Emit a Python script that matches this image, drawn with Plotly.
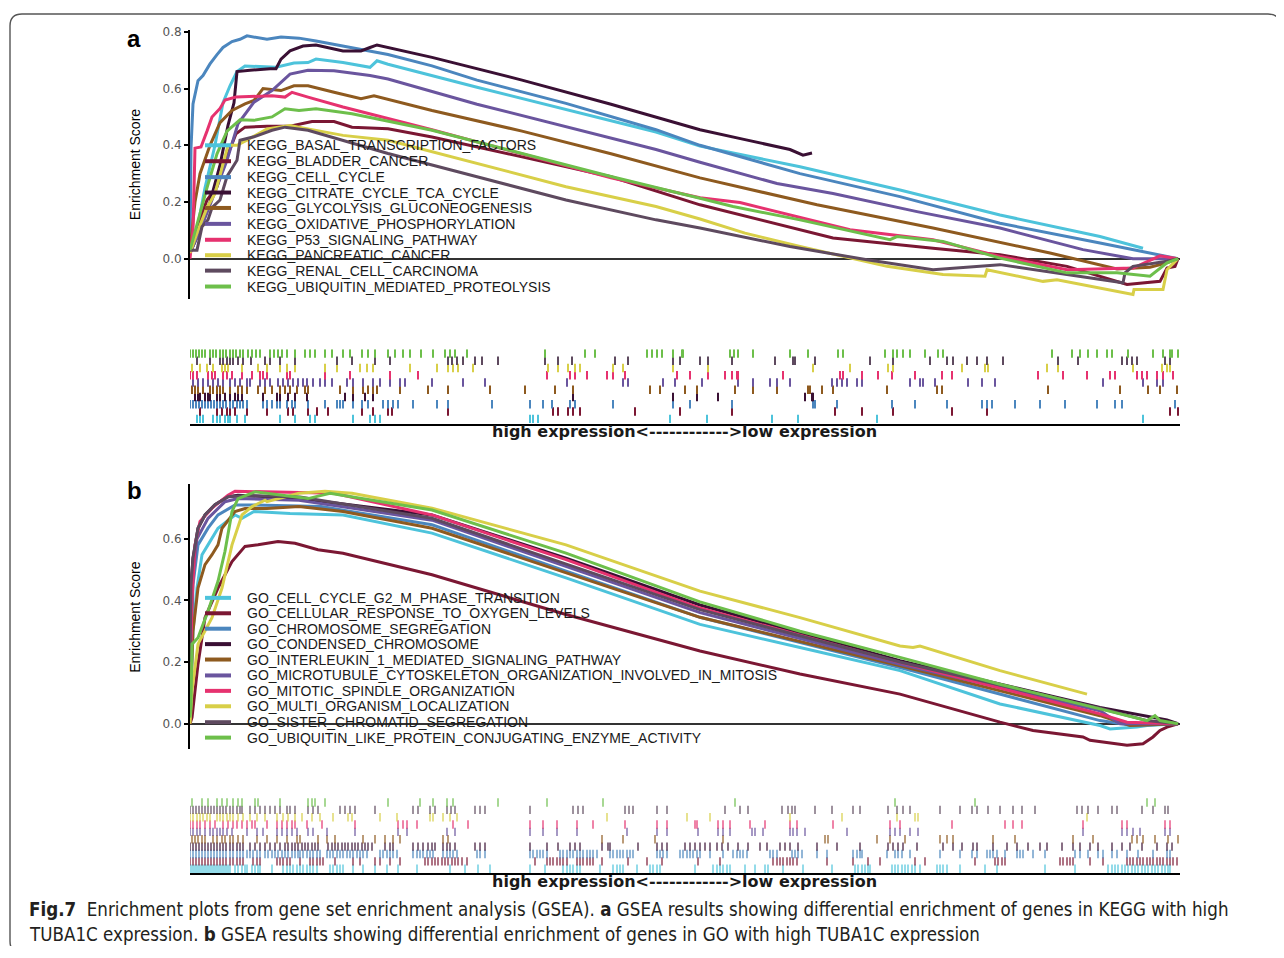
import plotly.graph_objects as go

# ---------------- DATA ----------------
KEGG_NAMES = ["KEGG_BASAL_TRANSCRIPTION_FACTORS", "KEGG_BLADDER_CANCER", "KEGG_CELL_CYCLE",
              "KEGG_CITRATE_CYCLE_TCA_CYCLE", "KEGG_GLYCOLYSIS_GLUCONEOGENESIS",
              "KEGG_OXIDATIVE_PHOSPHORYLATION", "KEGG_P53_SIGNALING_PATHWAY",
              "KEGG_PANCREATIC_CANCER", "KEGG_RENAL_CELL_CARCINOMA",
              "KEGG_UBIQUITIN_MEDIATED_PROTEOLYSIS"]
GO_NAMES = ["GO_CELL_CYCLE_G2_M_PHASE_TRANSITION", "GO_CELLULAR_RESPONSE_TO_OXYGEN_LEVELS",
            "GO_CHROMOSOME_SEGREGATION", "GO_CONDENSED_CHROMOSOME",
            "GO_INTERLEUKIN_1_MEDIATED_SIGNALING_PATHWAY",
            "GO_MICROTUBULE_CYTOSKELETON_ORGANIZATION_INVOLVED_IN_MITOSIS",
            "GO_MITOTIC_SPINDLE_ORGANIZATION", "GO_MULTI_ORGANISM_LOCALIZATION",
            "GO_SISTER_CHROMATID_SEGREGATION",
            "GO_UBIQUITIN_LIKE_PROTEIN_CONJUGATING_ENZYME_ACTIVITY"]
COLORS = ["#4DC3DB", "#7B1733", "#4B86BE", "#3A1034", "#8E5A1F",
          "#6A559E", "#E6326F", "#D8CF48", "#5E4A5F", "#6DBF4B"]

# running enrichment score curves (x = gene rank position, y = ES)
KEGG_X = [
    [0, 8, 15, 25, 33, 40, 47, 55, 86, 104, 118, 126, 153, 180, 187, 198, 287, 376, 466, 510, 610, 710, 810, 910, 953],
    [0, 8, 17, 27, 33, 46, 55, 77, 100, 122, 144, 162, 198, 242, 332, 421, 510, 643, 743, 810, 877, 927, 937, 970, 977, 985, 988],
    [0, 1, 3, 8, 13, 20, 27, 33, 42, 50, 57, 77, 91, 109, 126, 162, 198, 242, 287, 376, 466, 510, 610, 710, 810, 910, 960, 983, 988],
    [0, 10, 20, 30, 38, 44, 47, 60, 80, 86, 91, 100, 113, 126, 153, 171, 180, 187, 242, 332, 421, 510, 555, 600, 613, 622],
    [0, 5, 10, 20, 30, 42, 55, 64, 73, 91, 104, 118, 144, 171, 184, 242, 332, 421, 510, 627, 743, 860, 927, 960, 977, 988],
    [0, 10, 19, 28, 37, 48, 64, 82, 100, 118, 144, 180, 198, 287, 376, 466, 510, 587, 643, 727, 810, 893, 943, 977, 988],
    [0, 3, 5, 11, 17, 22, 30, 35, 46, 64, 82, 95, 102, 118, 153, 242, 332, 421, 510, 550, 660, 743, 810, 877, 943, 970, 988],
    [0, 8, 17, 25, 32, 38, 47, 57, 77, 100, 118, 153, 198, 287, 376, 466, 510, 555, 610, 697, 753, 795, 797, 853, 867, 943, 944, 973, 977, 988],
    [0, 7, 12, 18, 22, 30, 37, 47, 50, 64, 82, 95, 118, 198, 287, 376, 466, 510, 600, 677, 743, 810, 877, 933, 935, 943, 977, 988],
    [0, 8, 17, 27, 37, 50, 64, 82, 95, 109, 126, 162, 242, 332, 421, 510, 543, 610, 700, 707, 753, 810, 877, 927, 960, 977, 988],
]
KEGG_ES = [
    [0.02, 0.12, 0.25, 0.40, 0.55, 0.61, 0.66, 0.68, 0.675, 0.69, 0.692, 0.704, 0.692, 0.675, 0.698, 0.686, 0.605, 0.527, 0.447, 0.397, 0.324, 0.242, 0.154, 0.078, 0.037],
    [0.02, 0.12, 0.207, 0.254, 0.324, 0.441, 0.464, 0.467, 0.467, 0.484, 0.484, 0.464, 0.458, 0.429, 0.359, 0.289, 0.19, 0.073, 0.037, 0.014, -0.027, -0.08, -0.091, -0.08, -0.033, -0.027, 0.0],
    [0.02, 0.39, 0.546, 0.628, 0.646, 0.687, 0.72, 0.745, 0.766, 0.774, 0.786, 0.774, 0.782, 0.778, 0.768, 0.745, 0.72, 0.68, 0.63, 0.548, 0.455, 0.40, 0.30, 0.219, 0.125, 0.055, 0.02, 0.006, 0.0],
    [0.02, 0.1, 0.2, 0.33, 0.47, 0.55, 0.66, 0.665, 0.67, 0.67, 0.704, 0.733, 0.75, 0.754, 0.733, 0.733, 0.745, 0.754, 0.71, 0.63, 0.545, 0.455, 0.42, 0.385, 0.365, 0.373],
    [0.03, 0.2, 0.3, 0.4, 0.48, 0.523, 0.546, 0.558, 0.6, 0.593, 0.61, 0.61, 0.587, 0.564, 0.575, 0.523, 0.45, 0.37, 0.285, 0.19, 0.108, 0.02, -0.036, -0.03, -0.015, 0.0],
    [0.02, 0.1, 0.18, 0.26, 0.347, 0.476, 0.552, 0.593, 0.651, 0.665, 0.663, 0.646, 0.634, 0.545, 0.465, 0.385, 0.34, 0.265, 0.23, 0.166, 0.108, 0.032, 0.0, 0.002, 0.0],
    [0.0, 0.1, 0.39, 0.394, 0.45, 0.5, 0.53, 0.56, 0.57, 0.572, 0.575, 0.57, 0.587, 0.57, 0.535, 0.455, 0.37, 0.285, 0.215, 0.198, 0.102, 0.067, 0.008, -0.039, -0.033, 0.01, 0.0],
    [0.02, 0.1, 0.18, 0.23, 0.32, 0.4, 0.4, 0.418, 0.458, 0.47, 0.458, 0.435, 0.418, 0.336, 0.254, 0.184, 0.14, 0.09, 0.043, -0.027, -0.056, -0.062, -0.039, -0.08, -0.074, -0.126, -0.109, -0.109, -0.039, 0.0],
    [0.03, 0.03, 0.113, 0.137, 0.18, 0.207, 0.29, 0.347, 0.418, 0.43, 0.453, 0.464, 0.453, 0.371, 0.289, 0.207, 0.137, 0.108, 0.043, -0.004, -0.039, -0.021, -0.056, -0.085, -0.05, -0.027, -0.009, 0.0],
    [0.03, 0.137, 0.25, 0.37, 0.45, 0.49, 0.488, 0.5, 0.529, 0.523, 0.529, 0.511, 0.453, 0.371, 0.29, 0.213, 0.184, 0.137, 0.067, 0.078, 0.061, 0.002, -0.05, -0.05, -0.062, -0.015, 0.0],
]
GO_X = [
    [0, 3, 7, 12, 18, 28, 45, 52, 64, 100, 153, 242, 376, 510, 610, 710, 810, 910, 920, 947, 957, 983, 988],
    [0, 2, 8, 15, 28, 42, 55, 68, 88, 105, 128, 153, 242, 376, 510, 610, 710, 810, 843, 893, 900, 937, 953, 963, 970, 977, 988],
    [0, 3, 8, 18, 28, 45, 64, 131, 242, 510, 710, 910, 943, 988],
    [0, 1, 3, 8, 15, 25, 38, 48, 109, 242, 376, 510, 710, 910, 977, 988],
    [0, 3, 8, 15, 22, 28, 32, 45, 55, 77, 109, 153, 242, 510, 710, 910, 940, 988],
    [0, 2, 7, 18, 35, 48, 109, 242, 510, 710, 910, 930, 988],
    [0, 2, 5, 10, 22, 38, 45, 77, 144, 242, 376, 510, 710, 910, 937, 988],
    [0, 2, 8, 22, 32, 42, 52, 62, 75, 77, 109, 135, 162, 242, 376, 510, 610, 710, 723, 730, 810, 897],
    [0, 1, 3, 8, 15, 25, 38, 60, 110, 242, 510, 710, 910, 957, 988],
    [0, 1, 2, 8, 18, 28, 35, 42, 48, 65, 118, 140, 242, 376, 510, 610, 710, 810, 910, 957, 965, 970, 988],
]
GO_ES = [
    [0.05, 0.3, 0.44, 0.548, 0.58, 0.634, 0.677, 0.666, 0.688, 0.682, 0.677, 0.618, 0.473, 0.322, 0.247, 0.172, 0.064, -0.006, -0.017, -0.011, -0.006, 0.0, 0.0],
    [0.0, 0.02, 0.193, 0.344, 0.44, 0.526, 0.575, 0.58, 0.591, 0.585, 0.564, 0.553, 0.483, 0.354, 0.236, 0.161, 0.096, 0.005, -0.022, -0.043, -0.054, -0.07, -0.065, -0.043, -0.022, -0.011, 0.0],
    [0.1, 0.45, 0.58, 0.634, 0.677, 0.709, 0.709, 0.704, 0.645, 0.345, 0.182, 0.01, -0.006, 0.0],
    [0.15, 0.45, 0.537, 0.634, 0.677, 0.71, 0.736, 0.741, 0.73, 0.677, 0.537, 0.385, 0.204, 0.053, 0.012, 0.0],
    [0.02, 0.3, 0.44, 0.516, 0.548, 0.58, 0.634, 0.688, 0.698, 0.698, 0.704, 0.688, 0.634, 0.345, 0.188, 0.026, -0.006, 0.0],
    [0.1, 0.45, 0.6, 0.666, 0.72, 0.73, 0.725, 0.66, 0.36, 0.193, 0.042, 0.0, 0.0],
    [0.1, 0.4, 0.58, 0.656, 0.699, 0.741, 0.754, 0.752, 0.747, 0.677, 0.532, 0.375, 0.199, 0.032, 0.005, 0.0],
    [0.0, 0.107, 0.258, 0.344, 0.44, 0.58, 0.677, 0.704, 0.725, 0.72, 0.747, 0.754, 0.747, 0.699, 0.58, 0.43, 0.344, 0.252, 0.247, 0.252, 0.172, 0.096],
    [0.2, 0.45, 0.537, 0.634, 0.677, 0.71, 0.736, 0.74, 0.735, 0.666, 0.37, 0.2, 0.05, 0.01, 0.0],
    [0.02, 0.064, 0.258, 0.279, 0.365, 0.462, 0.559, 0.688, 0.73, 0.752, 0.73, 0.747, 0.693, 0.553, 0.395, 0.30, 0.215, 0.128, 0.048, 0.01, 0.026, 0.01, 0.0],
]

# gene-set member positions (rug "hits")
KEGG_HITS = [
    [7, 10, 13, 23, 27, 30, 35, 38, 40, 47, 55, 90, 105, 120, 125, 163, 180, 185, 190, 340, 343, 348, 480, 517, 582, 608, 687, 953],
    [10, 27, 32, 37, 40, 45, 57, 77, 98, 103, 118, 127, 138, 172, 183, 198, 202, 258, 363, 368, 378, 383, 390, 445, 490, 542, 645, 672, 703, 762, 797, 980, 988],
    [0, 3, 6, 9, 12, 15, 18, 21, 24, 27, 30, 33, 36, 40, 43, 47, 50, 53, 57, 73, 77, 82, 87, 90, 97, 102, 105, 118, 135, 147, 150, 153, 163, 172, 178, 193, 198, 203, 208, 223, 247, 258, 302, 340, 353, 362, 380, 385, 423, 483, 500, 542, 623, 625, 647, 702, 725, 757, 792, 797, 802, 825, 850, 875, 907, 925, 932, 985],
    [5, 8, 10, 15, 18, 20, 27, 30, 35, 40, 45, 48, 52, 73, 87, 90, 98, 105, 117, 155, 163, 175, 183, 383, 483, 507, 528, 615, 622, 623],
    [2, 5, 8, 13, 20, 23, 27, 30, 33, 40, 48, 52, 57, 68, 75, 82, 90, 95, 100, 107, 115, 118, 150, 163, 173, 178, 183, 187, 210, 238, 258, 300, 335, 365, 383, 460, 470, 495, 507, 545, 563, 587, 618, 620, 632, 643, 697, 747, 752, 858, 930, 958, 970, 987],
    [3, 8, 13, 18, 23, 28, 33, 40, 45, 50, 57, 60, 70, 75, 80, 88, 93, 98, 103, 108, 113, 117, 123, 130, 135, 142, 157, 163, 173, 183, 190, 200, 210, 215, 242, 273, 295, 377, 433, 438, 473, 485, 512, 548, 563, 580, 587, 600, 642, 647, 652, 657, 667, 672, 720, 730, 733, 745, 778, 792, 805, 913, 953, 967, 973],
    [0, 3, 7, 18, 22, 25, 33, 37, 42, 52, 62, 70, 73, 77, 97, 100, 135, 160, 200, 228, 357, 380, 385, 397, 417, 423, 435, 487, 500, 518, 535, 542, 547, 548, 593, 650, 653, 672, 688, 702, 725, 752, 762, 848, 873, 897, 920, 925, 947, 952, 957, 967, 973, 983],
    [2, 10, 17, 23, 32, 35, 38, 52, 68, 77, 90, 97, 105, 135, 147, 170, 177, 183, 220, 247, 258, 263, 268, 283, 358, 368, 378, 385, 390, 423, 433, 483, 518, 623, 660, 698, 703, 772, 795, 798, 857, 868, 943, 972, 977, 980],
    [7, 20, 30, 33, 37, 40, 43, 48, 53, 61, 75, 80, 90, 105, 147, 162, 185, 200, 258, 262, 267, 273, 285, 292, 308, 355, 368, 382, 425, 438, 483, 490, 510, 518, 542, 585, 603, 605, 625, 680, 703, 740, 757, 763, 777, 787, 797, 813, 868, 888, 932, 937, 942, 947, 975, 980],
    [0, 3, 6, 9, 12, 15, 20, 23, 26, 30, 33, 36, 40, 43, 46, 50, 53, 58, 62, 66, 70, 80, 84, 88, 92, 97, 105, 115, 120, 125, 135, 142, 153, 160, 172, 178, 185, 198, 205, 213, 220, 231, 243, 255, 260, 265, 277, 355, 395, 405, 457, 462, 467, 472, 483, 492, 493, 540, 544, 548, 563, 600, 618, 648, 653, 695, 703, 707, 713, 720, 735, 748, 753, 862, 882, 890, 898, 907, 917, 922, 938, 963, 973, 980, 982, 988],
]
GO_HITS = [
    [0, 2, 4, 6, 8, 10, 12, 14, 16, 18, 20, 22, 24, 26, 28, 30, 32, 34, 36, 38, 40, 45, 48, 52, 55, 57, 62, 65, 68, 70, 82, 93, 97, 100, 103, 107, 110, 113, 117, 120, 123, 127, 140, 143, 147, 150, 153, 163, 173, 185, 197, 208, 227, 260, 275, 288, 300, 340, 355, 373, 377, 380, 383, 387, 390, 410, 423, 427, 430, 433, 447, 460, 463, 467, 470, 505, 523, 527, 530, 533, 537, 540, 555, 565, 575, 578, 593, 613, 642, 665, 668, 672, 675, 678, 680, 702, 705, 708, 712, 715, 718, 722, 725, 730, 747, 750, 753, 757, 770, 795, 807, 855, 885, 918, 922, 925, 928, 932, 935, 938, 942, 945, 948, 952, 955, 958, 962, 965, 968, 972, 975, 978, 980],
    [0, 3, 6, 9, 12, 15, 18, 21, 24, 27, 30, 33, 36, 40, 43, 47, 50, 53, 63, 67, 70, 87, 90, 93, 97, 100, 110, 120, 123, 127, 130, 133, 145, 163, 170, 185, 190, 200, 210, 235, 238, 242, 245, 248, 252, 255, 258, 262, 265, 268, 272, 277, 345, 357, 360, 363, 367, 370, 373, 377, 387, 390, 393, 397, 400, 403, 412, 438, 457, 472, 508, 530, 583, 587, 590, 593, 597, 600, 603, 607, 637, 663, 678, 690, 725, 735, 785, 805, 808, 812, 815, 870, 873, 877, 880, 883, 900, 913, 937, 940, 943, 947, 950, 953, 957, 960, 963, 967, 970, 973, 977, 980, 983, 987],
    [0, 3, 6, 9, 12, 15, 18, 21, 24, 27, 30, 33, 36, 40, 43, 47, 50, 53, 57, 60, 63, 67, 70, 75, 78, 82, 85, 88, 92, 95, 98, 102, 105, 108, 110, 113, 117, 120, 123, 127, 130, 137, 140, 143, 147, 150, 153, 157, 160, 163, 167, 170, 173, 177, 190, 193, 197, 200, 203, 207, 223, 227, 230, 233, 237, 240, 243, 253, 257, 260, 263, 267, 287, 290, 295, 340, 343, 347, 350, 353, 357, 370, 373, 377, 380, 383, 387, 390, 393, 397, 400, 403, 407, 420, 423, 427, 430, 433, 437, 440, 443, 467, 470, 473, 477, 490, 493, 497, 500, 503, 507, 510, 520, 533, 543, 547, 550, 553, 557, 580, 583, 587, 602, 605, 608, 612, 627, 637, 663, 667, 670, 672, 697, 705, 708, 712, 720, 750, 770, 782, 787, 797, 800, 803, 807, 815, 827, 830, 833, 843, 855, 885, 890, 898, 908, 913, 922, 927, 937, 948, 963, 977, 980],
    [0, 3, 6, 9, 12, 15, 18, 21, 24, 27, 30, 33, 36, 40, 43, 47, 50, 53, 60, 65, 70, 75, 80, 85, 90, 95, 98, 102, 105, 108, 112, 115, 118, 122, 125, 128, 138, 142, 145, 148, 152, 155, 158, 162, 165, 168, 172, 175, 178, 182, 195, 200, 203, 223, 228, 233, 238, 242, 245, 253, 257, 260, 265, 285, 290, 295, 340, 357, 368, 380, 385, 390, 412, 418, 420, 448, 467, 472, 477, 495, 500, 505, 510, 515, 520, 527, 532, 538, 548, 558, 570, 577, 590, 595, 600, 608, 627, 647, 670, 698, 703, 708, 713, 727, 753, 763, 772, 783, 787, 803, 817, 827, 838, 850, 857, 872, 883, 890, 900, 908, 922, 932, 940, 952, 967, 977, 982],
    [2, 5, 8, 12, 15, 23, 27, 32, 35, 40, 43, 48, 53, 67, 77, 87, 97, 107, 110, 128, 137, 145, 173, 185, 195, 203, 210, 253, 258, 412, 433, 465, 533, 635, 638, 687, 700, 715, 750, 757, 763, 803, 825, 883, 903, 942, 947, 953, 965, 978, 988],
    [0, 3, 7, 10, 15, 20, 23, 27, 30, 33, 37, 42, 57, 67, 73, 87, 92, 97, 102, 107, 118, 123, 137, 165, 208, 217, 257, 265, 340, 353, 367, 387, 437, 467, 477, 508, 528, 533, 540, 562, 565, 573, 600, 603, 607, 615, 657, 700, 705, 710, 720, 728, 893, 932, 937, 943, 950, 975, 980],
    [0, 3, 7, 10, 15, 20, 25, 33, 38, 43, 47, 52, 57, 62, 65, 77, 87, 92, 97, 102, 105, 117, 132, 165, 208, 213, 217, 227, 263, 278, 340, 353, 367, 387, 403, 435, 467, 477, 505, 507, 528, 533, 540, 560, 575, 600, 607, 643, 700, 710, 762, 815, 823, 832, 893, 932, 937, 975, 980],
    [0, 3, 7, 10, 13, 17, 20, 27, 30, 33, 37, 40, 43, 48, 53, 60, 67, 75, 87, 93, 98, 105, 112, 122, 130, 143, 158, 162, 190, 207, 240, 243, 253, 260, 267, 417, 497, 520, 600, 652, 707, 725, 728, 897],
    [0, 3, 6, 9, 12, 15, 18, 21, 24, 27, 30, 33, 36, 40, 43, 47, 50, 52, 60, 65, 70, 75, 80, 85, 90, 97, 100, 105, 118, 123, 128, 150, 155, 160, 165, 185, 223, 228, 240, 245, 257, 261, 265, 285, 290, 295, 340, 383, 388, 393, 435, 439, 443, 467, 477, 535, 550, 558, 592, 598, 602, 605, 625, 642, 663, 670, 698, 707, 713, 720, 750, 770, 782, 787, 798, 810, 823, 832, 845, 887, 892, 898, 908, 922, 927, 952, 963, 975, 978],
    [2, 12, 18, 27, 32, 37, 43, 48, 52, 65, 68, 90, 118, 122, 125, 135, 198, 230, 243, 257, 263, 308, 357, 413, 545, 705, 785, 957, 965],
]

TICK_VALS = [0.0, 0.2, 0.4, 0.6, 0.8]
TICK_TEXT = ["0.0", "0.2", "0.4", "0.6", "0.8"]
AXIS_LABEL = "high expression<------------>low expression"
Y_TITLE = "Enrichment Score"
CAPTION_1 = ("<b>Fig.7</b>  Enrichment plots from gene set enrichment analysis (GSEA). <b>a</b> GSEA results "
             "showing differential enrichment of genes in KEGG with high")
CAPTION_2 = ("TUBA1C expression. <b>b</b> GSEA results showing differential enrichment of genes in GO "
             "with high TUBA1C expression")

# ---------------- LAYOUT HELPERS ----------------
OFFX, OFFY = 8, 12           # where the figure div sits on the page
W, H = 1284 - OFFX, 958 - OFFY - 8


def PX(x):
    return (x - OFFX) / W


def PY(y):
    return 1 - (y - OFFY) / H


X_LEFT, X_RIGHT = 190, 1180
RANK_MAX = 990

fig = go.Figure()

# main curves
for i in range(10):
    fig.add_trace(go.Scatter(x=KEGG_X[i], y=KEGG_ES[i], mode="lines", line=dict(color=COLORS[i], width=3),
                             xaxis="x", yaxis="y", showlegend=False, hoverinfo="skip"))
for i in range(10):
    fig.add_trace(go.Scatter(x=GO_X[i], y=GO_ES[i], mode="lines", line=dict(color=COLORS[i], width=3),
                             xaxis="x2", yaxis="y2", showlegend=False, hoverinfo="skip"))

# rugs
for i in range(10):
    fig.add_trace(go.Scatter(x=KEGG_HITS[i], y=[5 + 7.3 * i] * len(KEGG_HITS[i]), mode="markers",
                             marker=dict(symbol="line-ns", size=6, line=dict(width=2, color=COLORS[i])),
                             xaxis="x3", yaxis="y3", showlegend=False, hoverinfo="skip"))
for i in range(10):
    fig.add_trace(go.Scatter(x=GO_HITS[i], y=[4.7 + 7.4 * i] * len(GO_HITS[i]), mode="markers",
                             marker=dict(symbol="line-ns", size=6, line=dict(width=2, color=COLORS[i])),
                             opacity=0.6,
                             xaxis="x4", yaxis="y4", showlegend=False, hoverinfo="skip"))

hidden_x = dict(range=[0, RANK_MAX], showline=False, showgrid=False, zeroline=False,
                showticklabels=False, ticks="", domain=[PX(X_LEFT), PX(X_RIGHT)])
rug_x = dict(range=[0, RANK_MAX], showline=True, linecolor="black", linewidth=2, showgrid=False,
             zeroline=False, showticklabels=False, ticks="", domain=[PX(X_LEFT), PX(X_RIGHT)])
tick_font = dict(family="DejaVu Sans", size=12, color="#555555")
es_axis = dict(showline=True, linecolor="black", linewidth=2, ticks="outside", ticklen=4, tickwidth=1.5,
               tickcolor="black", tickvals=TICK_VALS, ticktext=TICK_TEXT, tickfont=tick_font,
               showgrid=False, zeroline=True, zerolinecolor="#333333", zerolinewidth=1.5)

fig.update_layout(
    width=W, height=H, margin=dict(l=0, r=0, t=0, b=0, pad=0), autosize=False,
    paper_bgcolor="white", plot_bgcolor="rgba(0,0,0,0)",
    xaxis=dict(hidden_x, anchor="y"),
    yaxis=dict(es_axis, anchor="x", domain=[PY(300), PY(29)],
               range=[(259 - 300) / 285, (259 - 29) / 285]),
    xaxis2=dict(hidden_x, anchor="y2"),
    yaxis2=dict(es_axis, anchor="x2", domain=[PY(752), PY(486)],
                range=[(726.5 - 752) / 310, (726.5 - 486) / 310]),
    xaxis3=dict(rug_x, anchor="y3"),
    yaxis3=dict(domain=[PY(425), PY(350)], range=[0, 75], visible=False, anchor="x3"),
    xaxis4=dict(rug_x, anchor="y4"),
    yaxis4=dict(domain=[PY(877), PY(800)], range=[0, 77], visible=False, anchor="x4"),
)

# frame with rounded corners
fig.add_shape(type="path", xref="paper", yref="paper",
              path=(f"M {PX(22)},{PY(13)} L {PX(1268)},{PY(13)} Q {PX(1280)},{PY(13)} {PX(1280)},{PY(25)} "
                    f"L {PX(1280)},{PY(945)} Q {PX(1280)},{PY(957)} {PX(1268)},{PY(957)} "
                    f"L {PX(22)},{PY(957)} Q {PX(10)},{PY(957)} {PX(10)},{PY(945)} "
                    f"L {PX(10)},{PY(25)} Q {PX(10)},{PY(13)} {PX(22)},{PY(13)} Z"),
              line=dict(color="#555555", width=1.4), fillcolor="rgba(0,0,0,0)", layer="below")

legend_font = dict(family="Liberation Sans", size=14, color="#1a1a1a")
KEGG_ROWS_Y = [145, 161, 177, 192.5, 208, 224, 240, 255.5, 271, 287]
GO_ROWS_Y = [600, 615.5, 631, 646.5, 662, 678, 693.5, 709, 725, 740.5]
for names, rows in ((KEGG_NAMES, KEGG_ROWS_Y), (GO_NAMES, GO_ROWS_Y)):
    for i, (nm, yy) in enumerate(zip(names, rows)):
        fig.add_shape(type="line", xref="paper", yref="paper", x0=PX(205), x1=PX(231), y0=PY(yy), y1=PY(yy),
                      line=dict(color=COLORS[i], width=4))
        fig.add_annotation(x=PX(245), y=PY(yy), xref="paper", yref="paper", text=nm, showarrow=False,
                           xanchor="left", yanchor="middle", font=legend_font)

for lab, yy in (("a", 38), ("b", 492)):
    fig.add_annotation(x=PX(134), y=PY(yy), xref="paper", yref="paper", text=f"<b>{lab}</b>", showarrow=False,
                       xanchor="center", yanchor="middle",
                       font=dict(family="Liberation Sans", size=24, color="black"))

for yy in (165, 620):
    fig.add_annotation(x=PX(135), y=PY(yy), xref="paper", yref="paper", text=Y_TITLE, showarrow=False,
                       textangle=-90, xanchor="center", yanchor="middle",
                       font=dict(family="Liberation Sans", size=14, color="black"))

for yy in (433, 885):
    fig.add_annotation(x=PX(684), y=PY(yy), xref="paper", yref="paper", text=f"<b>{AXIS_LABEL}</b>",
                       showarrow=False, xanchor="center", yanchor="middle",
                       font=dict(family="DejaVu Sans", size=16, color="#1a1a1a"))

cap_font = dict(family="Liberation Sans Narrow, DejaVu Sans Condensed, Liberation Sans", size=18.6, color="#231F20")
fig.add_annotation(x=PX(27), y=PY(913.5), xref="paper", yref="paper", text=CAPTION_1, showarrow=False,
                   xanchor="left", yanchor="middle", font=cap_font)
fig.add_annotation(x=PX(27), y=PY(938), xref="paper", yref="paper", text=CAPTION_2, showarrow=False,
                   xanchor="left", yanchor="middle", font=cap_font)

fig.write_html("out.html")
